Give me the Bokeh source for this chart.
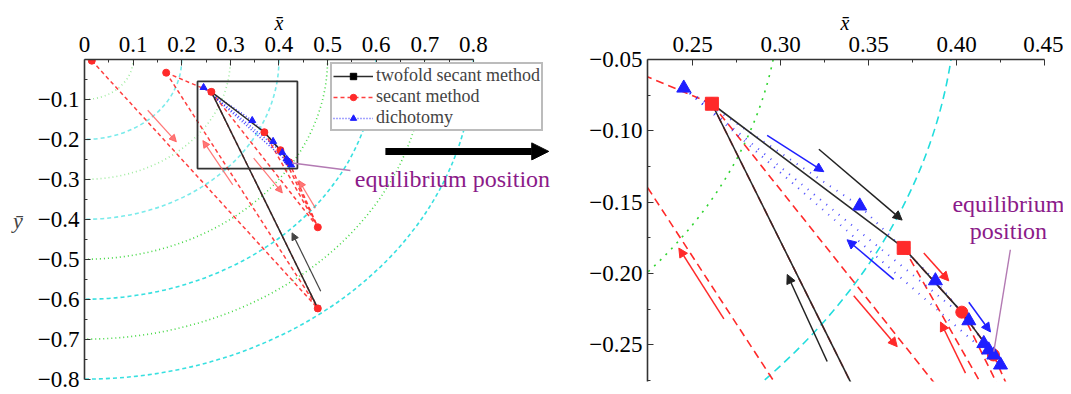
from bokeh.plotting import figure
from bokeh.layouts import row
from bokeh.models import (Range1d, FixedTicker, CustomJSTickFormatter, Label, Arrow,
                          NormalHead, ColumnDataSource, Legend, LegendItem)
from bokeh.embed import file_html
from bokeh.resources import INLINE

# ---------------- data ----------------
radii_green = [0.1, 0.3, 0.5, 0.7]      # dotted green arcs (left panel)
radii_cyan = [0.2, 0.4, 0.6, 0.8]       # dashed cyan arcs (left panel)
radii_green_zoom = [0.3]                # arcs visible in the zoomed panel
radii_cyan_zoom = [0.4]

# secant method points (red)
sec_x = [0.015, 0.168, 0.261, 0.480, 0.480, 0.370, 0.403, 0.421]
sec_y = [-0.003, -0.033, -0.081, -0.623, -0.420, -0.182, -0.227, -0.257]
sec_pairs = [(0, 3), (1, 3), (1, 2), (2, 3), (2, 4), (5, 4), (6, 4), (7, 4), (5, 6), (6, 7)]

# twofold secant method path (black)
tw_x = [0.480, 0.261, 0.370, 0.403, 0.421]
tw_y = [-0.623, -0.081, -0.182, -0.227, -0.257]
tw_square_idx = [1, 2]

# dichotomy points (blue)
di_x = [0.245, 0.345, 0.388, 0.407, 0.4155, 0.4183, 0.4212, 0.425]
di_y = [-0.070, -0.1526, -0.205, -0.233, -0.249, -0.2535, -0.257, -0.264]
di_pairs = [(0, 1), (1, 2), (2, 3), (3, 4), (4, 5), (5, 6), (6, 7), (0, 3), (0, 7)]

# zoom box shown in the left panel
box_x = [0.2325, 0.438]
box_y = [-0.273, -0.055]

# direction arrows  (x0, y0, x1, y1)
left_red_arrows = [(0.130, -0.127, 0.189, -0.206), (0.305, -0.314, 0.2435, -0.203),
                   (0.348, -0.247, 0.407, -0.334), (0.475, -0.372, 0.441, -0.303)]
left_black_arrows = [(0.486, -0.58, 0.427, -0.434)]
right_blue_arrows = [(0.2924, -0.1032, 0.3246, -0.1286), (0.3643, -0.2040, 0.3378, -0.1763),
                     (0.4070, -0.2201, 0.4193, -0.2409)]
right_black_arrows = [(0.3218, -0.1129, 0.3691, -0.1625), (0.3265, -0.2616, 0.3038, -0.2006)]
right_red_arrows = [(0.2678, -0.2317, 0.2422, -0.1821), (0.3814, -0.1856, 0.3956, -0.2051),
                    (0.3416, -0.2155, 0.3663, -0.2512), (0.4051, -0.2697, 0.3909, -0.2339)]

left_xticks = [0, 0.1, 0.2, 0.3, 0.4, 0.5, 0.6, 0.7, 0.8]
left_yticks = [-0.8, -0.7, -0.6, -0.5, -0.4, -0.3, -0.2, -0.1]
right_xticks = [0.25, 0.30, 0.35, 0.40, 0.45]
right_yticks = [-0.25, -0.20, -0.15, -0.10, -0.05]

FONT = "Liberation Serif"
RED = "#ff2a2a"
BLUE = "#1f1fff"
BLACK = "#2b2b2b"
PURPLE = "#8b1a89"


def style_axes(p, xt, yt, xminor, yminor, xfmt, yfmt, xb, yb, xstand, ystand):
    for ax, ticks, minor, fmt, b, st in ((p.xaxis[0], xt, xminor, xfmt, xb, xstand),
                                         (p.yaxis[0], yt, yminor, yfmt, yb, ystand)):
        ax.ticker = FixedTicker(ticks=ticks, minor_ticks=minor)
        ax.formatter = CustomJSTickFormatter(code=fmt)
        ax.bounds = b
        ax.axis_line_color = "#333333"
        ax.axis_line_width = 1.6
        ax.major_tick_line_color = "#333333"
        ax.minor_tick_line_color = "#333333"
        ax.major_tick_in = 6
        ax.major_tick_out = 0
        ax.minor_tick_in = 3
        ax.minor_tick_out = 0
        ax.major_label_text_font = FONT
        ax.major_label_text_font_size = "23px"
        ax.major_label_text_color = "black"
        ax.major_label_standoff = st
    p.xgrid.visible = False
    p.ygrid.visible = False


def arcs(p, rg, rc, alpha_g, alpha_c, dash_g, dash_c):
    p.ellipse(x=[0] * len(rg), y=[0] * len(rg),
              width=[2 * r for r in rg], height=[2 * r for r in rg],
              fill_color=None, line_color="#2fd42f", line_alpha=alpha_g,
              line_width=1.6, line_dash=dash_g)
    p.ellipse(x=[0] * len(rc), y=[0] * len(rc),
              width=[2 * r for r in rc], height=[2 * r for r in rc],
              fill_color=None, line_color="#22dddd", line_alpha=alpha_c,
              line_width=1.6, line_dash=dash_c)


def seg_src(xs, ys, pairs):
    return ColumnDataSource(dict(x0=[xs[a] for a, b in pairs], y0=[ys[a] for a, b in pairs],
                                 x1=[xs[b] for a, b in pairs], y1=[ys[b] for a, b in pairs]))


def arrows(p, lst, color, width, size, alpha=1.0):
    src = ColumnDataSource(dict(x0=[a[0] for a in lst], y0=[a[1] for a in lst],
                                x1=[a[2] for a in lst], y1=[a[3] for a in lst]))
    p.add_layout(Arrow(x_start="x0", y_start="y0", x_end="x1", y_end="y1", source=src,
                       line_color=color, line_width=width, line_alpha=alpha,
                       end=NormalHead(size=size, fill_color=color, line_color=color,
                                      fill_alpha=alpha, line_alpha=alpha)))


def axis_title(p, offset):
    p.title.text = "x\u0304"
    p.title.align = "left"
    p.title.offset = offset
    p.title.standoff = 0
    p.title.text_font = FONT
    p.title.text_font_size = "20px"
    p.title.text_font_style = "italic"
    p.title.text_color = "black"


# ---------------- left panel ----------------
p1 = figure(width=556, height=392, x_range=Range1d(0, 0.971), y_range=Range1d(-0.806, 0.0),
            x_axis_location="above", output_backend="svg", toolbar_location=None,
            min_border_left=84, min_border_right=0, min_border_top=58, min_border_bottom=11,
            outline_line_color=None)
style_axes(p1, left_xticks, left_yticks,
           [0.05, 0.15, 0.25, 0.35, 0.45, 0.55, 0.65, 0.75],
           [-0.75, -0.65, -0.55, -0.45, -0.35, -0.25, -0.15, -0.05],
           "return tick === 0 ? '0' : tick.toFixed(1);",
           "return '\\u2212' + Math.abs(tick).toFixed(1);",
           (0, 0.8), (-0.8, 0), 8, 5)
axis_title(p1, 190)
p1.yaxis.axis_label = "y\u0304"
p1.yaxis.axis_label_text_font = FONT
p1.yaxis.axis_label_text_font_size = "22px"
p1.yaxis.axis_label_text_font_style = "italic"
p1.yaxis.axis_label_standoff = 12
try:
    p1.yaxis.axis_label_orientation = "horizontal"
except Exception:
    pass

arcs(p1, radii_green, radii_cyan, [0.45, 0.45, 0.9, 0.9], [0.6, 0.6, 0.9, 0.9], "1 3", "4 3")

arrows(p1, left_red_arrows, "#ff5555", 1.2, 7, 0.8)
arrows(p1, left_black_arrows, "#444444", 1.2, 7)

sec_seg1 = p1.segment("x0", "y0", "x1", "y1", source=seg_src(sec_x, sec_y, sec_pairs),
                      line_color=RED, line_width=1.5, line_dash="4 3", line_alpha=0.9)
di_seg1 = p1.segment("x0", "y0", "x1", "y1", source=seg_src(di_x, di_y, di_pairs),
                     line_color=BLUE, line_width=1.6, line_dash="1 2", line_alpha=0.8)
tw_line1 = p1.line(tw_x, tw_y, line_color=BLACK, line_width=1.5)
tw_sq1 = p1.scatter(tw_x, tw_y, marker="square", size=5, color="black")
sec_pt1 = p1.scatter(sec_x, sec_y, marker="circle", size=7, color=RED)
di_pt1 = p1.scatter(di_x, di_y, marker="triangle", size=7, color=BLUE)

p1.quad(left=[box_x[0]], right=[box_x[1]], bottom=[box_y[0]], top=[box_y[1]],
        fill_color=None, line_color="#333333", line_width=1.8)

# pointer to equilibrium position
p1.segment(x0=[0.427], y0=[-0.259], x1=[0.547], y1=[-0.278], line_color="#b37ab3", line_width=1.4)
p1.add_layout(Label(x=0.556, y=-0.300, text="equilibrium position", text_font=FONT,
                    text_font_size="24px", text_color=PURPLE, text_baseline="middle"))

# big arrow toward the zoomed panel
p1.add_layout(Arrow(x_start=0.619, y_start=-0.23, x_end=0.955, y_end=-0.23, line_color="black",
                    line_width=7, end=NormalHead(size=17, fill_color="black", line_color="black")))

legend = Legend(items=[LegendItem(label="twofold secant method", renderers=[tw_line1, tw_sq1]),
                       LegendItem(label="secant method", renderers=[sec_seg1, sec_pt1]),
                       LegendItem(label="dichotomy", renderers=[di_seg1, di_pt1])],
                location=(246, 250), label_text_font=FONT, label_text_font_size="18px",
                glyph_width=40, glyph_height=16, label_height=16, spacing=0, padding=1,
                margin=0, label_standoff=3, border_line_color="#7a7a7a", border_line_width=2,
                background_fill_color="white", background_fill_alpha=1.0)
p1.add_layout(legend)

# ---------------- right panel ----------------
p2 = figure(width=507, height=392, x_range=Range1d(0.2244, 0.4608), y_range=Range1d(-0.2756, -0.05),
            x_axis_location="above", output_backend="svg", toolbar_location=None,
            min_border_left=91, min_border_right=0, min_border_top=59, min_border_bottom=7,
            outline_line_color=None)
style_axes(p2, right_xticks, right_yticks,
           [0.275, 0.325, 0.375, 0.425],
           [-0.275, -0.225, -0.175, -0.125, -0.075],
           "return tick.toFixed(2);",
           "return '\\u2212' + Math.abs(tick).toFixed(2);",
           (0.2244, 0.45), (-0.2756, -0.05), 8, 5)
axis_title(p2, 193)

arcs(p2, radii_green_zoom, radii_cyan_zoom, 1.0, 1.0, "2 6", "8 5")

p2.segment("x0", "y0", "x1", "y1", source=seg_src(sec_x, sec_y, sec_pairs),
           line_color=RED, line_width=1.6, line_dash="8 5")
p2.segment("x0", "y0", "x1", "y1", source=seg_src(di_x, di_y, di_pairs),
           line_color=BLUE, line_width=2, line_dash="1 7", line_alpha=0.8)
p2.line(tw_x, tw_y, line_color=BLACK, line_width=1.6)

arrows(p2, right_blue_arrows, BLUE, 1.5, 9)
arrows(p2, right_black_arrows, "#222222", 1.5, 9)
arrows(p2, right_red_arrows, RED, 1.5, 9)

p2.scatter(sec_x, sec_y, marker="circle", size=12, color=RED)
p2.scatter([tw_x[i] for i in tw_square_idx], [tw_y[i] for i in tw_square_idx],
           marker="square", size=13, color=RED)
p2.scatter(di_x, di_y, marker="triangle", size=14, color=BLUE)

p2.segment(x0=[0.4306], y0=[-0.1833], x1=[0.4212], y1=[-0.2547], line_color="#b37ab3", line_width=1.4)
p2.add_layout(Label(x=0.4295, y=-0.151, text="equilibrium", text_font=FONT, text_font_size="24px",
                    text_color=PURPLE, text_align="center", text_baseline="middle"))
p2.add_layout(Label(x=0.4295, y=-0.1703, text="position", text_font=FONT, text_font_size="24px",
                    text_color=PURPLE, text_align="center", text_baseline="middle"))

layout = row(p1, p2)
open("out.html", "w", encoding="utf-8").write(file_html(layout, INLINE))
